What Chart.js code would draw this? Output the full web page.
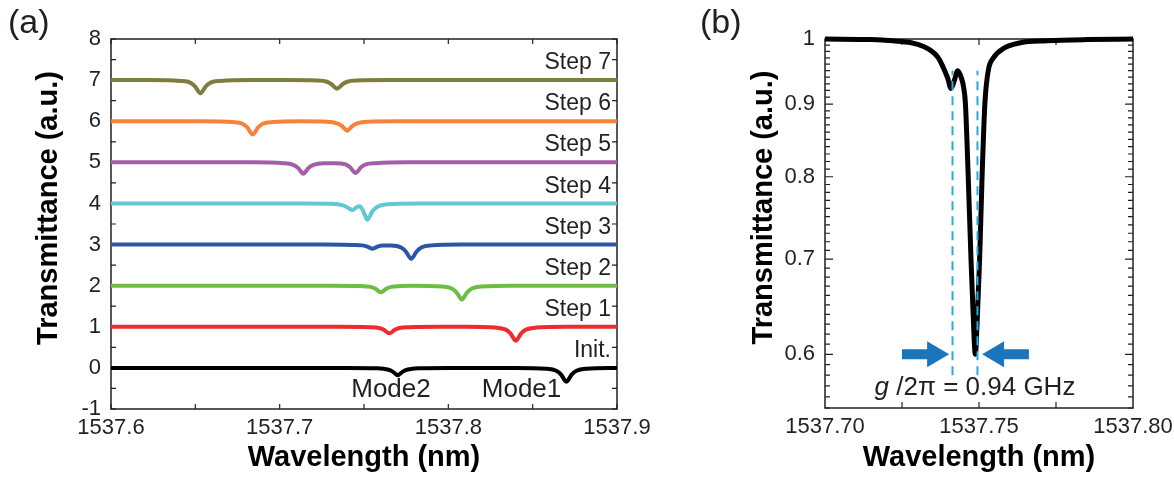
<!DOCTYPE html>
<html>
<head>
<meta charset="utf-8">
<title>Transmittance spectra</title>
<script src="https://cdn.jsdelivr.net/npm/chart.js@4.4.1/dist/chart.umd.min.js"></script>
<style>
  body { margin: 0; background: #fff; }
  #page { position: relative; width: 1174px; height: 480px; overflow: hidden; font-family: "Liberation Sans", Arial, sans-serif; color: #231f20; }
  .graph { position: absolute; top: 0; height: 480px; }
  #graphA { left: 0; width: 680px; }
  #graphB { left: 640px; width: 534px; }
  .tag { position: absolute; top: 4px; font-size: 34px; line-height: 34px; }
</style>
</head>
<body>
<div id="page">
  <div class="graph" id="graphA"><canvas id="chartA" width="680" height="480"></canvas></div>
  <div class="graph" id="graphB"><canvas id="chartB" width="534" height="480"></canvas></div>
  <div class="tag" style="left:8px">(a)</div>
  <div class="tag" style="left:700px">(b)</div>
</div>
<script>
// ---------- panel (a): spectra after each tuning step ----------
const xTicksA = [1537.6, 1537.7, 1537.8, 1537.9];
const yTicksA = [-1, 0, 1, 2, 3, 4, 5, 6, 7, 8];
const stepNames = ["Init.", "Step 1", "Step 2", "Step 3", "Step 4", "Step 5", "Step 6", "Step 7"];
const stepOffsets = [0, 1, 2, 3, 4, 5, 6, 7];
const stepColors = ["#000000", "#ee2b2e", "#6dbd45", "#2b56a6", "#62c8d3", "#a45ea8", "#f6823b", "#7e7c3e"];

// [wavelength (nm), transmittance change]
const init = [[1537.600, 0], [1537.740, 0], [1537.758, -0.01], [1537.764, -0.04], [1537.767, -0.09], [1537.7685, -0.14], [1537.770, -0.18], [1537.7715, -0.14], [1537.773, -0.09], [1537.776, -0.04], [1537.782, -0.01], [1537.800, 0],
  [1537.840, 0], [1537.858, -0.02], [1537.864, -0.07], [1537.867, -0.17], [1537.8685, -0.27], [1537.870, -0.34], [1537.8715, -0.27], [1537.873, -0.17], [1537.876, -0.07], [1537.882, -0.02], [1537.900, 0]];
const step1 = [[1537.600, 0], [1537.735, 0], [1537.753, -0.01], [1537.759, -0.03], [1537.762, -0.08], [1537.7635, -0.13], [1537.765, -0.16], [1537.7665, -0.13], [1537.768, -0.08], [1537.771, -0.03], [1537.777, -0.01], [1537.795, 0],
  [1537.810, 0], [1537.828, -0.02], [1537.834, -0.07], [1537.837, -0.17], [1537.8385, -0.27], [1537.840, -0.34], [1537.8415, -0.27], [1537.843, -0.17], [1537.846, -0.07], [1537.852, -0.02], [1537.870, 0], [1537.900, 0]];
const step2 = [[1537.600, 0], [1537.730, 0], [1537.748, -0.01], [1537.754, -0.03], [1537.757, -0.08], [1537.7585, -0.13], [1537.760, -0.16], [1537.7615, -0.13], [1537.763, -0.08], [1537.766, -0.03], [1537.772, -0.01], [1537.778, 0],
  [1537.796, -0.02], [1537.802, -0.07], [1537.805, -0.17], [1537.8065, -0.27], [1537.808, -0.34], [1537.8095, -0.27], [1537.811, -0.17], [1537.814, -0.07], [1537.820, -0.02], [1537.838, 0], [1537.900, 0]];
const step3 = [[1537.600, 0], [1537.725, 0], [1537.743, -0.01], [1537.749, -0.02], [1537.752, -0.05], [1537.7535, -0.08], [1537.755, -0.10], [1537.7565, -0.08], [1537.758, -0.05], [1537.761, -0.02], [1537.766, -0.02],
  [1537.772, -0.07], [1537.775, -0.18], [1537.7765, -0.28], [1537.778, -0.35], [1537.7795, -0.28], [1537.781, -0.18], [1537.784, -0.07], [1537.790, -0.02], [1537.808, 0], [1537.900, 0]];
const step4 = [[1537.600, 0], [1537.715, 0], [1537.731, -0.01], [1537.737, -0.04], [1537.740, -0.09], [1537.7415, -0.13], [1537.743, -0.16], [1537.7445, -0.13], [1537.746, -0.08], [1537.7475, -0.07],
  [1537.749, -0.14], [1537.7505, -0.28], [1537.752, -0.40], [1537.7535, -0.31], [1537.755, -0.19], [1537.758, -0.08], [1537.764, -0.02], [1537.782, 0], [1537.900, 0]];
const step5 = [[1537.600, 0], [1537.684, 0], [1537.702, -0.02], [1537.708, -0.06], [1537.711, -0.14], [1537.7125, -0.22], [1537.714, -0.28], [1537.7155, -0.22], [1537.717, -0.14], [1537.720, -0.06], [1537.726, -0.02],
  [1537.733, -0.02], [1537.739, -0.05], [1537.742, -0.13], [1537.7435, -0.21], [1537.745, -0.26], [1537.7465, -0.21], [1537.748, -0.13], [1537.751, -0.05], [1537.757, -0.02], [1537.775, 0], [1537.900, 0]];
const step6 = [[1537.600, 0], [1537.654, 0], [1537.672, -0.02], [1537.678, -0.06], [1537.681, -0.16], [1537.6825, -0.26], [1537.684, -0.32], [1537.6855, -0.26], [1537.687, -0.16], [1537.690, -0.06], [1537.696, -0.02], [1537.712, 0],
  [1537.728, -0.01], [1537.734, -0.05], [1537.737, -0.12], [1537.7385, -0.18], [1537.740, -0.23], [1537.7415, -0.18], [1537.743, -0.12], [1537.746, -0.05], [1537.752, -0.01], [1537.770, 0], [1537.900, 0]];
const step7 = [[1537.600, 0], [1537.623, 0], [1537.641, -0.02], [1537.647, -0.06], [1537.650, -0.16], [1537.6515, -0.26], [1537.653, -0.32], [1537.6545, -0.26], [1537.656, -0.16], [1537.659, -0.06], [1537.665, -0.02], [1537.683, 0],
  [1537.704, 0], [1537.722, -0.01], [1537.728, -0.04], [1537.731, -0.11], [1537.7325, -0.17], [1537.734, -0.21], [1537.7355, -0.17], [1537.737, -0.11], [1537.740, -0.04], [1537.746, -0.01], [1537.764, 0], [1537.900, 0]];
const tracesA = [init, step1, step2, step3, step4, step5, step6, step7];

const modeNames = ["Mode2", "Mode1"];
const modeX = [1537.766, 1537.8434];
const modeY = [-0.53, -0.53];

// ---------- panel (b): split resonance ----------
const xTicksB = [1537.70, 1537.75, 1537.80];
const yTicksB = [0.6, 0.7, 0.8, 0.9, 1];
const yTickLabelsB = ["0.6", "0.7", "0.8", "0.9", "1"];
const spectrumB = [[1537.700, 1.000], [1537.715, 0.999], [1537.722, 0.997], [1537.728, 0.994], [1537.732, 0.988], [1537.7348, 0.980], [1537.7368, 0.970],
  [1537.738, 0.959], [1537.7398, 0.939], [1537.7409, 0.923], [1537.742, 0.935], [1537.7431, 0.950], [1537.7442, 0.940], [1537.7450, 0.925],
  [1537.7456, 0.900], [1537.7465, 0.800], [1537.7474, 0.700], [1537.7481, 0.640], [1537.7488, 0.600], [1537.7495, 0.640], [1537.7502, 0.700],
  [1537.7510, 0.800], [1537.7519, 0.900], [1537.7530, 0.950], [1537.7547, 0.970], [1537.7580, 0.985], [1537.7635, 0.994], [1537.7720, 0.997],
  [1537.785, 0.999], [1537.800, 1.000]];
const splitLines = [1537.7414, 1537.7495];
const splitLineY = [0.58, 0.95];
const arrowTail = [1537.7250, 1537.7662];
const arrowTip = [1537.7403, 1537.7510];
const arrowY = 0.6;
const couplingText = ["g", " /2\u03c0 = 0.94 GHz"];
const couplingPos = [1537.7487, 0.568];

const ink = "#231f20";
const family = "'Liberation Sans', Arial, sans-serif";
Chart.defaults.font.family = family;
Chart.defaults.color = ink;

// box round the plot, inward ticks on all four sides, rotated y title
function frame(xMarks, yMarks, yTitle, titleX) {
  return {
    id: "frame",
    beforeDatasetsDraw(chart) {
      const { ctx, chartArea: a, scales: { x, y } } = chart;
      ctx.save();
      ctx.strokeStyle = ink;
      ctx.lineWidth = 1.5;
      ctx.strokeRect(a.left, a.top, a.right - a.left, a.bottom - a.top);
      ctx.lineWidth = 1.2;
      ctx.beginPath();
      xMarks.forEach(([v, len]) => {
        const px = x.getPixelForValue(v);
        ctx.moveTo(px, a.bottom); ctx.lineTo(px, a.bottom - len);
        ctx.moveTo(px, a.top); ctx.lineTo(px, a.top + len);
      });
      yMarks.forEach(([v, len]) => {
        const py = y.getPixelForValue(v);
        ctx.moveTo(a.left, py); ctx.lineTo(a.left + len, py);
        ctx.moveTo(a.right, py); ctx.lineTo(a.right - len, py);
      });
      ctx.stroke();
      ctx.restore();
    },
    afterDraw(chart) {
      const { ctx, chartArea: a } = chart;
      ctx.save();
      ctx.translate(titleX, (a.top + a.bottom) / 2 - 16);
      ctx.rotate(-Math.PI / 2);
      ctx.font = "bold 29px " + family;
      ctx.fillStyle = "#000";
      ctx.textAlign = "center";
      ctx.textBaseline = "middle";
      ctx.fillText(yTitle, 0, 0);
      ctx.restore();
    }
  };
}

function baseScale(ticks, decimals, size) {
  return {
    afterBuildTicks: s => { s.ticks = ticks.map(v => ({ value: v })); },
    grid: { display: false, drawTicks: false },
    border: { display: false },
    ticks: { font: { size: 22 }, autoSkip: false, maxRotation: 0,
      callback: v => v.toFixed(decimals) }
  };
}

// ---- chart (a)
const marksAx = [];
for (let k = 0; k <= 6; k++) marksAx.push([1537.6 + k * 0.05, 5]);
const marksAy = [];
for (let k = 0; k <= 18; k++) marksAy.push([-1 + k * 0.5, 5]);

const labelsA = {
  id: "labelsA",
  afterDatasetsDraw(chart) {
    const { ctx, chartArea: a, scales: { x, y } } = chart;
    ctx.save();
    ctx.fillStyle = ink;
    ctx.textBaseline = "middle";
    ctx.font = "23px " + family;
    ctx.textAlign = "right";
    stepNames.forEach((name, i) => ctx.fillText(name, a.right - 6, y.getPixelForValue(stepOffsets[i] + 0.42)));
    ctx.font = "26px " + family;
    ctx.textAlign = "center";
    modeNames.forEach((name, i) => ctx.fillText(name, x.getPixelForValue(modeX[i]), y.getPixelForValue(modeY[i])));
    ctx.restore();
  }
};

const xA = baseScale(xTicksA, 1);
Object.assign(xA, {
  type: "linear", min: 1537.6, max: 1537.9,
  afterFit: s => { s.height = 71; s.paddingLeft = 0; s.paddingRight = 0; },
  title: { display: true, text: "Wavelength (nm)", color: "#000", font: { size: 29, weight: "bold" }, padding: { top: 0, bottom: 5 } }
});
xA.ticks.padding = 6;
const yA = baseScale(yTicksA, 0);
Object.assign(yA, {
  type: "linear", min: -1, max: 8,
  afterFit: s => { s.width = 111; s.paddingTop = 0; s.paddingBottom = 0; }
});
yA.ticks.padding = 10;

new Chart(document.getElementById("chartA"), {
  type: "line",
  data: {
    datasets: tracesA.map((trace, i) => ({
      label: stepNames[i],
      data: trace.map(p => ({ x: p[0], y: p[1] + stepOffsets[i] })),
      borderColor: stepColors[i],
      borderWidth: 4,
      pointRadius: 0,
      cubicInterpolationMode: "monotone",
      clip: false
    }))
  },
  options: {
    responsive: false,
    animation: false,
    events: [],
    layout: { padding: { left: 0, right: 63, top: 39, bottom: 0 } },
    plugins: { legend: { display: false }, tooltip: { enabled: false } },
    scales: { x: xA, y: yA }
  },
  plugins: [frame(marksAx, marksAy, "Transmittance (a.u.)", 49), labelsA]
});

// ---- chart (b)
const marksBx = [[1537.725, 6], [1537.75, 6], [1537.775, 6]];
const marksBy = [];
for (let k = 55; k <= 100; k++) marksBy.push([k / 100, k % 10 === 0 ? 8 : 5]);

const labelsB = {
  id: "labelsB",
  afterDatasetsDraw(chart) {
    const { ctx, scales: { x, y } } = chart;
    ctx.save();
    ctx.fillStyle = "#1b75bc";
    const py = y.getPixelForValue(arrowY);
    arrowTail.forEach((t, i) => {
      const x0 = x.getPixelForValue(t), x1 = x.getPixelForValue(arrowTip[i]);
      const dir = Math.sign(x1 - x0), xb = x1 - dir * 22;
      ctx.beginPath();
      ctx.moveTo(x0, py - 5); ctx.lineTo(xb, py - 5); ctx.lineTo(xb, py - 13); ctx.lineTo(x1, py);
      ctx.lineTo(xb, py + 13); ctx.lineTo(xb, py + 5); ctx.lineTo(x0, py + 5);
      ctx.closePath();
      ctx.fill();
    });
    ctx.fillStyle = ink;
    ctx.textBaseline = "middle";
    ctx.textAlign = "left";
    ctx.font = "italic 26px " + family;
    const w0 = ctx.measureText(couplingText[0]).width;
    ctx.font = "26px " + family;
    const w1 = ctx.measureText(couplingText[1]).width;
    const cx = x.getPixelForValue(couplingPos[0]) - (w0 + w1) / 2;
    const cy = y.getPixelForValue(couplingPos[1]);
    ctx.font = "italic 26px " + family;
    ctx.fillText(couplingText[0], cx, cy);
    ctx.font = "26px " + family;
    ctx.fillText(couplingText[1], cx + w0, cy);
    ctx.restore();
  }
};

const xB = baseScale(xTicksB, 2);
Object.assign(xB, {
  type: "linear", min: 1537.70, max: 1537.80,
  afterFit: s => { s.height = 72; s.paddingLeft = 0; s.paddingRight = 0; },
  title: { display: true, text: "Wavelength (nm)", color: "#000", font: { size: 29, weight: "bold" }, padding: { top: 0, bottom: 5 } }
});
xB.ticks.padding = 6;
const yB = baseScale(yTicksB, 1);
Object.assign(yB, {
  type: "logarithmic", min: 0.55, max: 1,
  afterFit: s => { s.width = 185; s.paddingTop = 0; s.paddingBottom = 0; }
});
yB.ticks.padding = 10;
yB.ticks.callback = (v, i) => yTickLabelsB[i];

new Chart(document.getElementById("chartB"), {
  type: "line",
  data: {
    datasets: splitLines.map(v => ({
      data: splitLineY.map(t => ({ x: v, y: t })),
      borderColor: "#29abe2",
      borderWidth: 2,
      borderDash: [9, 6],
      pointRadius: 0
    })).concat([{
      label: "Transmittance",
      data: spectrumB.map(p => ({ x: p[0], y: p[1] })),
      borderColor: "#000000",
      borderWidth: 5,
      pointRadius: 0,
      cubicInterpolationMode: "monotone",
      clip: false
    }])
  },
  options: {
    responsive: false,
    animation: false,
    events: [],
    layout: { padding: { left: 0, right: 41, top: 39, bottom: 0 } },
    plugins: { legend: { display: false }, tooltip: { enabled: false } },
    scales: { x: xB, y: yB }
  },
  plugins: [frame(marksBx, marksBy, "Transmittance (a.u.)", 124), labelsB]
});
</script>
</body>
</html>
